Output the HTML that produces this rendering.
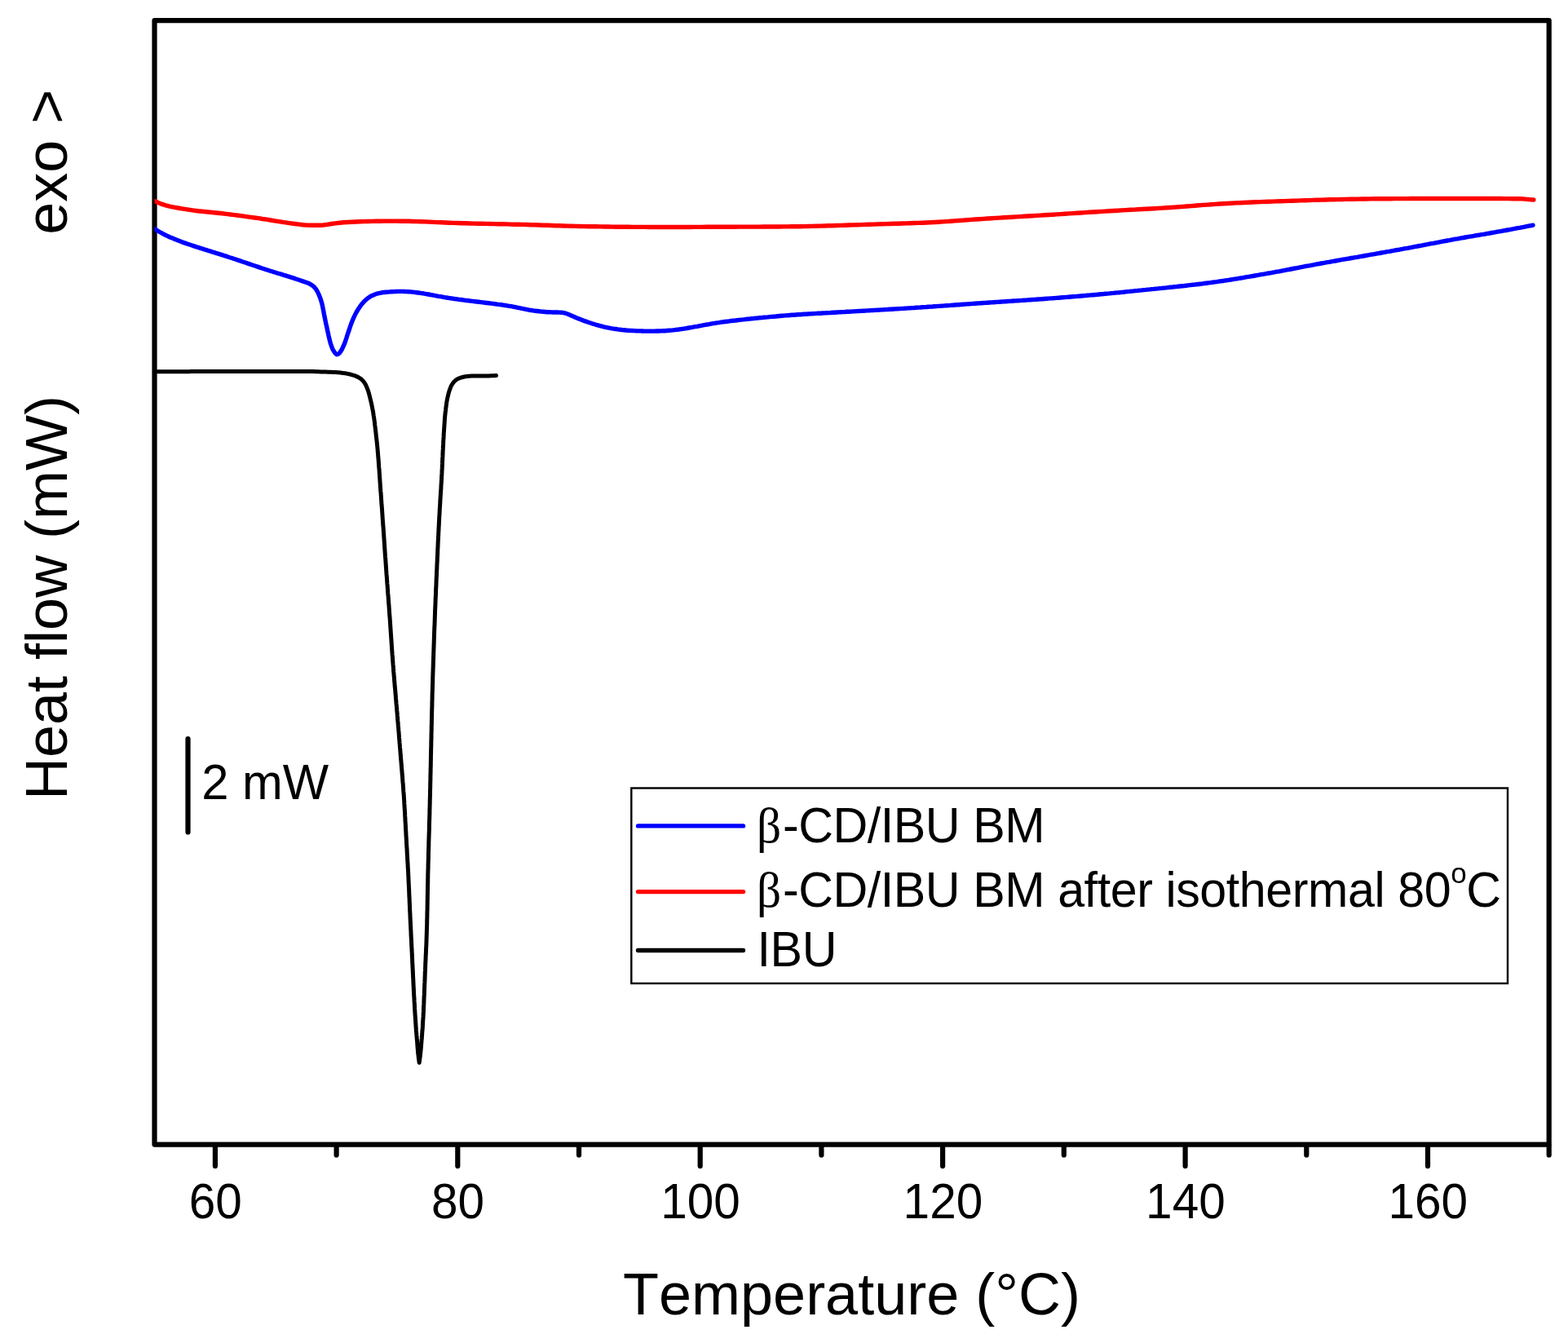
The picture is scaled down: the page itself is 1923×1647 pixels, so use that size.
<!DOCTYPE html>
<html lang="en">
<head>
<meta charset="utf-8">
<title>DSC thermograms</title>
<style>
html,body{margin:0;padding:0;background:#fff;}
body{width:1923px;height:1647px;overflow:hidden;}
svg{display:block;filter:blur(0.7px);}
text{font-family:"Liberation Sans",sans-serif;fill:#000;font-kerning:none;}
.sym{font-family:"Liberation Serif",serif;}
</style>
</head>
<body>
<svg width="1923" height="1647" viewBox="0 0 1923 1647">
<defs><clipPath id="plot"><rect x="189.5" y="25.2" width="1710.2" height="1378.4"/></clipPath></defs>
<rect x="-10" y="-10" width="1943" height="1667" fill="#fff"/>
<g fill="none" stroke="#000" stroke-width="6.2" stroke-linecap="round" stroke-linejoin="round">
<rect x="189.5" y="25.2" width="1710.2" height="1378.4"/>
<path d="M263.9 1405.1V1430.0M412.6 1405.1V1416.5M561.3 1405.1V1430.0M710.0 1405.1V1416.5M858.7 1405.1V1430.0M1007.4 1405.1V1416.5M1156.1 1405.1V1430.0M1304.8 1405.1V1416.5M1453.6 1405.1V1430.0M1602.3 1405.1V1416.5M1751.0 1405.1V1430.0M1899.7 1405.1V1416.5"/>
<path d="M230.5 906V1020.5"/>
</g>
<g clip-path="url(#plot)" fill="none" stroke-linecap="round" stroke-linejoin="round" stroke-width="5.0">
<path stroke="#000000" d="M189.4 455.8L192.4 455.8L195.4 455.8L198.4 455.8L201.4 455.8L204.4 455.7L207.4 455.7L210.4 455.7L213.4 455.7L216.4 455.7L219.4 455.7L222.4 455.7L225.4 455.7L228.4 455.7L231.4 455.7L234.4 455.6L237.4 455.6L240.4 455.6L243.4 455.6L246.4 455.6L249.4 455.6L252.4 455.6L255.4 455.6L258.4 455.6L261.4 455.6L264.4 455.5L267.4 455.5L270.4 455.5L273.4 455.5L276.4 455.5L279.4 455.5L282.4 455.5L285.4 455.5L288.4 455.5L291.4 455.5L294.4 455.5L297.4 455.4L300.4 455.4L303.4 455.4L306.4 455.4L309.4 455.4L312.4 455.4L315.4 455.4L318.4 455.4L321.4 455.4L324.4 455.4L327.4 455.4L330.4 455.4L333.4 455.4L336.4 455.4L339.5 455.4L342.5 455.4L345.5 455.4L348.5 455.4L351.5 455.4L354.5 455.4L357.5 455.4L360.5 455.4L363.5 455.4L366.5 455.4L369.5 455.4L372.5 455.5L375.5 455.5L378.5 455.5L381.5 455.6L384.5 455.6L387.5 455.7L390.4 455.8L393.4 455.9L396.4 456L399.4 456.1L402.4 456.2L405.4 456.3L408.4 456.4L411.4 456.6L414.4 456.8L417.4 457.1L420.4 457.4L423.4 457.8L426.3 458.4L429.3 459L432.2 459.8L435 460.7L437.8 461.8L440.5 463.2L442.9 464.9L445.1 466.9L446.9 469.3L448.5 471.9L449.7 474.6L450.8 477.4L451.8 480.3L452.6 483.1L453.4 486L454.1 489L454.8 491.9L455.5 494.8L456.1 497.7L456.7 500.7L457.2 503.6L457.8 506.6L458.2 509.6L458.7 512.5L459.1 515.5L459.5 518.5L459.8 521.5L460.2 524.4L460.5 527.4L460.9 530.4L461.2 533.4L461.5 536.4L461.9 539.3L462.2 542.3L462.5 545.3L462.8 548.3L463.1 551.3L463.3 554.3L463.6 557.3L463.8 560.3L464.1 563.2L464.3 566.2L464.5 569.2L464.7 572.2L465 575.2L465.2 578.2L465.4 581.2L465.6 584.2L465.8 587.2L466 590.2L466.2 593.2L466.4 596.2L466.6 599.2L466.8 602.2L467.1 605.1L467.3 608.1L467.5 611.1L467.7 614.1L467.9 617.1L468.1 620.1L468.4 623.1L468.6 626.1L468.8 629.1L469 632.1L469.2 635.1L469.4 638.1L469.6 641.1L469.8 644.1L470.1 647.1L470.3 650L470.5 653L470.7 656L470.9 659L471.1 662L471.3 665L471.5 668L471.7 671L471.9 674L472.1 677L472.3 680L472.5 683L472.8 686L473 689L473.2 692L473.4 695L473.6 697.9L473.8 700.9L474 703.9L474.3 706.9L474.5 709.9L474.7 712.9L474.9 715.9L475.2 718.9L475.4 721.9L475.6 724.9L475.8 727.9L476.1 730.9L476.3 733.9L476.5 736.9L476.7 739.8L477 742.8L477.2 745.8L477.4 748.8L477.6 751.8L477.8 754.8L478.1 757.8L478.3 760.8L478.5 763.8L478.7 766.8L478.9 769.8L479.1 772.8L479.3 775.8L479.5 778.8L479.7 781.8L479.9 784.7L480.1 787.7L480.3 790.7L480.5 793.7L480.7 796.7L480.9 799.7L481.1 802.7L481.4 805.7L481.6 808.7L481.8 811.7L482 814.7L482.3 817.7L482.5 820.7L482.7 823.7L483 826.6L483.2 829.6L483.5 832.6L483.7 835.6L484 838.6L484.2 841.6L484.5 844.6L484.8 847.6L485 850.6L485.3 853.6L485.5 856.5L485.8 859.5L486 862.5L486.3 865.5L486.6 868.5L486.8 871.5L487.1 874.5L487.3 877.5L487.6 880.5L487.8 883.5L488.1 886.5L488.3 889.4L488.6 892.4L488.8 895.4L489.1 898.4L489.3 901.4L489.5 904.4L489.8 907.4L490 910.4L490.3 913.4L490.5 916.4L490.8 919.4L491 922.3L491.2 925.3L491.5 928.3L491.7 931.3L492 934.3L492.2 937.3L492.5 940.3L492.7 943.3L493 946.3L493.2 949.3L493.5 952.3L493.7 955.2L493.9 958.2L494.2 961.2L494.4 964.2L494.6 967.2L494.8 970.2L495.1 973.2L495.3 976.2L495.5 979.2L495.7 982.2L495.8 985.2L496 988.2L496.2 991.2L496.4 994.2L496.6 997.2L496.7 1000.2L496.9 1003.2L497 1006.1L497.2 1009.1L497.4 1012.1L497.5 1015.1L497.7 1018.1L497.9 1021.1L498 1024.1L498.2 1027.1L498.4 1030.1L498.5 1033.1L498.7 1036.1L498.9 1039.1L499.1 1042.1L499.2 1045.1L499.4 1048.1L499.6 1051.1L499.7 1054.1L499.9 1057.1L500.1 1060.1L500.2 1063.1L500.4 1066.1L500.6 1069.1L500.7 1072.1L500.9 1075.1L501 1078.1L501.1 1081.1L501.3 1084.1L501.4 1087.1L501.6 1090.1L501.7 1093.1L501.8 1096L501.9 1099L502.1 1102L502.2 1105L502.3 1108L502.5 1111L502.6 1114L502.7 1117L502.9 1120L503 1123L503.1 1126L503.3 1129L503.4 1132L503.6 1135L503.7 1138L503.9 1141L504 1144L504.1 1147L504.3 1150L504.4 1153L504.6 1156L504.7 1159L504.9 1162L505 1165L505.2 1168L505.3 1171L505.5 1174L505.6 1177L505.7 1180L505.9 1183L506 1186L506.2 1189L506.3 1192L506.5 1195L506.6 1198L506.8 1201L506.9 1204L507 1207L507.2 1210L507.3 1213L507.5 1216L507.6 1219L507.8 1221.9L508 1224.9L508.1 1227.9L508.3 1230.9L508.5 1233.9L508.6 1236.9L508.8 1239.9L509 1242.9L509.2 1245.9L509.4 1248.9L509.6 1251.9L509.8 1254.9L510 1257.9L510.2 1260.9L510.4 1263.9L510.7 1266.9L510.9 1269.9L511.2 1272.8L511.4 1275.8L511.7 1278.8L511.9 1281.8L512.1 1284.8L512.4 1287.8L512.6 1290.8L513 1293.8L513.3 1296.8L513.7 1299.7L514.1 1302.7L514.2 1303.2L514.6 1300.2L515 1297.2L515.4 1294.3L515.7 1291.3L516 1288.3L516.3 1285.3L516.5 1282.3L516.8 1279.3L517 1276.3L517.3 1273.4L517.5 1270.4L517.7 1267.4L517.9 1264.4L518.2 1261.4L518.4 1258.4L518.5 1255.4L518.7 1252.4L518.9 1249.4L519.1 1246.4L519.2 1243.4L519.4 1240.4L519.5 1237.4L519.6 1234.4L519.8 1231.4L519.9 1228.4L520 1225.4L520.1 1222.4L520.3 1219.4L520.4 1216.4L520.5 1213.4L520.6 1210.4L520.7 1207.4L520.9 1204.4L521 1201.4L521.1 1198.4L521.2 1195.4L521.3 1192.4L521.5 1189.4L521.6 1186.5L521.7 1183.5L521.8 1180.5L522 1177.5L522.1 1174.5L522.2 1171.5L522.4 1168.5L522.5 1165.5L522.6 1162.5L522.8 1159.5L522.9 1156.5L523 1153.5L523.1 1150.5L523.2 1147.5L523.3 1144.5L523.4 1141.5L523.5 1138.5L523.6 1135.5L523.7 1132.5L523.7 1129.5L523.8 1126.5L523.9 1123.5L523.9 1120.5L524 1117.5L524.1 1114.5L524.1 1111.5L524.2 1108.5L524.2 1105.5L524.3 1102.5L524.3 1099.5L524.4 1096.5L524.4 1093.5L524.5 1090.5L524.5 1087.5L524.6 1084.5L524.7 1081.5L524.7 1078.5L524.8 1075.5L524.8 1072.5L524.9 1069.5L525 1066.5L525.1 1063.5L525.1 1060.5L525.2 1057.5L525.3 1054.5L525.4 1051.5L525.4 1048.5L525.5 1045.5L525.6 1042.5L525.7 1039.5L525.8 1036.5L525.8 1033.5L525.9 1030.5L526 1027.5L526.1 1024.5L526.2 1021.5L526.3 1018.5L526.4 1015.5L526.4 1012.5L526.5 1009.5L526.6 1006.5L526.7 1003.5L526.8 1000.5L526.9 997.5L526.9 994.5L527 991.5L527.1 988.5L527.2 985.5L527.2 982.5L527.3 979.5L527.4 976.5L527.5 973.5L527.5 970.5L527.6 967.5L527.7 964.5L527.7 961.5L527.8 958.5L527.9 955.5L527.9 952.5L528 949.5L528.1 946.5L528.1 943.5L528.2 940.5L528.3 937.5L528.3 934.5L528.4 931.5L528.4 928.5L528.5 925.5L528.6 922.5L528.6 919.5L528.7 916.5L528.8 913.5L528.8 910.5L528.9 907.5L529 904.5L529 901.5L529.1 898.5L529.2 895.5L529.2 892.5L529.3 889.5L529.4 886.5L529.4 883.5L529.5 880.5L529.6 877.5L529.6 874.5L529.7 871.5L529.8 868.5L529.9 865.5L529.9 862.5L530 859.5L530.1 856.5L530.1 853.5L530.2 850.5L530.3 847.5L530.4 844.5L530.5 841.5L530.6 838.5L530.7 835.5L530.7 832.5L530.8 829.5L530.9 826.5L531 823.5L531.1 820.5L531.2 817.5L531.3 814.5L531.4 811.5L531.5 808.5L531.6 805.5L531.7 802.5L531.8 799.5L531.9 796.5L532 793.5L532.1 790.5L532.2 787.5L532.3 784.5L532.4 781.5L532.5 778.5L532.6 775.5L532.7 772.5L532.8 769.5L533 766.5L533.1 763.5L533.2 760.5L533.3 757.5L533.4 754.5L533.5 751.5L533.6 748.5L533.7 745.5L533.9 742.5L534 739.5L534.1 736.5L534.2 733.5L534.4 730.5L534.5 727.5L534.6 724.5L534.7 721.5L534.9 718.5L535 715.5L535.1 712.5L535.2 709.5L535.4 706.5L535.5 703.5L535.6 700.5L535.8 697.5L535.9 694.5L536 691.5L536.2 688.5L536.3 685.5L536.4 682.5L536.6 679.5L536.7 676.5L536.8 673.5L537 670.5L537.1 667.5L537.2 664.5L537.4 661.6L537.5 658.6L537.7 655.6L537.8 652.6L538 649.6L538.1 646.6L538.3 643.6L538.4 640.6L538.6 637.6L538.7 634.6L538.9 631.6L539.1 628.6L539.2 625.6L539.4 622.6L539.6 619.6L539.8 616.6L539.9 613.6L540.1 610.6L540.3 607.6L540.5 604.6L540.7 601.6L540.9 598.6L541 595.6L541.2 592.6L541.4 589.6L541.6 586.6L541.7 583.7L541.9 580.7L542 577.7L542.2 574.7L542.3 571.7L542.5 568.7L542.6 565.7L542.7 562.7L542.9 559.7L543 556.7L543.1 553.7L543.3 550.7L543.4 547.7L543.6 544.7L543.7 541.7L543.9 538.7L544.1 535.7L544.2 532.7L544.4 529.7L544.6 526.7L544.8 523.7L545 520.7L545.2 517.7L545.4 514.7L545.6 511.8L545.9 508.8L546.2 505.8L546.6 502.8L546.9 499.8L547.3 496.8L547.7 493.9L548.2 490.9L548.8 488L549.5 485L550.2 482.1L551.1 479.2L552.1 476.4L553.2 473.6L554.7 471L556.5 468.6L558.6 466.5L561 464.8L563.8 463.6L566.6 462.7L569.5 462L572.5 461.6L575.5 461.2L578.5 461L581.5 460.9L584.5 460.9L587.5 460.9L590.6 460.9L593.6 460.9L596.6 460.9L599.5 460.9L602.5 460.8L605.5 460.7L608.5 460.6"/>
<path stroke="#ff0000" stroke-width="5.4" d="M189.4 246.5L194 248.5L198.7 250.4L203.4 251.9L208.2 253.1L213.1 254.1L218 255L223 255.9L227.9 256.7L232.8 257.4L237.8 258.1L242.7 258.7L247.7 259.2L252.7 259.7L257.7 260.3L262.6 260.8L267.6 261.3L272.6 261.8L277.5 262.4L282.5 263L287.5 263.6L292.4 264.2L297.4 264.9L302.3 265.6L307.3 266.3L312.2 267L317.2 267.7L322.1 268.5L327.1 269.2L332 270L336.9 270.8L341.9 271.6L346.8 272.4L351.8 273.1L356.7 273.8L361.7 274.5L366.6 275.1L371.6 275.7L376.6 276.1L381.6 276.3L386.6 276.3L391.6 276.3L396.5 276L401.5 275.3L406.5 274.5L411.4 273.9L416.4 273.3L421.4 272.8L426.3 272.5L431.3 272.3L436.3 272L441.3 271.8L446.3 271.6L451.3 271.5L456.3 271.4L461.3 271.3L466.3 271.2L471.3 271.1L476.3 271.1L481.3 271.1L486.3 271.1L491.3 271.2L496.3 271.2L501.3 271.3L506.3 271.5L511.3 271.6L516.3 271.8L521.3 271.9L526.3 272.1L531.3 272.4L536.3 272.6L541.3 272.8L546.3 273L551.3 273.2L556.3 273.4L561.3 273.5L566.3 273.7L571.3 273.8L576.3 274L581.3 274.1L586.3 274.2L591.3 274.3L596.3 274.4L601.3 274.5L606.3 274.6L611.3 274.7L616.3 274.8L621.3 274.9L626.3 275.1L631.3 275.2L636.3 275.3L641.3 275.4L646.3 275.5L651.3 275.7L656.3 275.8L661.2 276L666.2 276.2L671.2 276.3L676.2 276.5L681.2 276.7L686.2 276.8L691.2 277L696.2 277.1L701.2 277.3L706.2 277.4L711.2 277.5L716.2 277.6L721.2 277.7L726.2 277.8L731.2 277.8L736.2 277.9L741.2 278L746.2 278L751.2 278.1L756.2 278.2L761.2 278.2L766.2 278.3L771.2 278.3L776.2 278.4L781.2 278.4L786.2 278.4L791.2 278.4L796.2 278.5L801.2 278.5L806.2 278.5L811.2 278.5L816.2 278.5L821.2 278.5L826.2 278.5L831.2 278.5L836.2 278.5L841.2 278.5L846.2 278.5L851.2 278.4L856.2 278.4L861.2 278.4L866.2 278.3L871.2 278.3L876.2 278.3L881.2 278.2L886.2 278.2L891.2 278.2L896.2 278.2L901.2 278.2L906.2 278.1L911.2 278.1L916.2 278.1L921.2 278.1L926.2 278.1L931.2 278.1L936.2 278L941.2 278L946.2 278L951.2 278L956.2 278L961.2 277.9L966.2 277.9L971.2 277.8L976.2 277.8L981.2 277.7L986.2 277.6L991.2 277.5L996.2 277.4L1001.2 277.3L1006.2 277.1L1011.2 277L1016.2 276.8L1021.2 276.7L1026.2 276.5L1031.2 276.4L1036.2 276.2L1041.2 276L1046.2 275.9L1051.2 275.7L1056.2 275.6L1061.2 275.4L1066.2 275.3L1071.2 275.1L1076.2 274.9L1081.2 274.8L1086.2 274.6L1091.2 274.5L1096.2 274.3L1101.2 274.2L1106.2 274L1111.2 273.9L1116.2 273.7L1121.2 273.5L1126.2 273.4L1131.2 273.2L1136.2 273L1141.2 272.7L1146.2 272.5L1151.2 272.2L1156.1 271.9L1161.1 271.6L1166.1 271.2L1171.1 270.9L1176.1 270.5L1181.1 270.1L1186.1 269.8L1191.1 269.4L1196 269L1201 268.7L1206 268.4L1211 268L1216 267.7L1221 267.4L1226 267.1L1231 266.8L1236 266.5L1241 266.2L1246 265.9L1250.9 265.6L1255.9 265.3L1260.9 265L1265.9 264.7L1270.9 264.4L1275.9 264.1L1280.9 263.8L1285.9 263.5L1290.9 263.2L1295.9 262.9L1300.9 262.6L1305.8 262.3L1310.8 261.9L1315.8 261.6L1320.8 261.3L1325.8 261L1330.8 260.6L1335.8 260.3L1340.8 260L1345.8 259.7L1350.8 259.4L1355.7 259.1L1360.7 258.8L1365.7 258.5L1370.7 258.2L1375.7 257.9L1380.7 257.6L1385.7 257.3L1390.7 257.1L1395.7 256.8L1400.7 256.5L1405.7 256.3L1410.7 256L1415.7 255.7L1420.6 255.4L1425.6 255.1L1430.6 254.8L1435.6 254.5L1440.6 254.1L1445.6 253.7L1450.6 253.4L1455.6 253L1460.6 252.6L1465.5 252.2L1470.5 251.8L1475.5 251.4L1480.5 251.1L1485.5 250.7L1490.5 250.4L1495.5 250L1500.4 249.7L1505.4 249.5L1510.4 249.2L1515.4 248.9L1520.4 248.7L1525.4 248.5L1530.4 248.3L1535.4 248L1540.4 247.8L1545.4 247.6L1550.4 247.4L1555.4 247.3L1560.4 247.1L1565.4 246.9L1570.4 246.7L1575.4 246.6L1580.4 246.4L1585.4 246.2L1590.4 246.1L1595.4 245.9L1600.4 245.8L1605.4 245.6L1610.4 245.4L1615.4 245.3L1620.4 245.1L1625.4 245L1630.4 244.8L1635.4 244.7L1640.4 244.6L1645.4 244.5L1650.4 244.4L1655.4 244.3L1660.4 244.2L1665.4 244.1L1670.4 244L1675.4 244L1680.4 243.9L1685.4 243.8L1690.4 243.8L1695.4 243.7L1700.4 243.7L1705.4 243.7L1710.4 243.6L1715.4 243.6L1720.4 243.6L1725.4 243.6L1730.4 243.5L1735.4 243.5L1740.4 243.5L1745.4 243.5L1750.4 243.5L1755.4 243.5L1760.4 243.5L1765.4 243.5L1770.4 243.5L1775.4 243.5L1780.4 243.5L1785.4 243.5L1790.4 243.5L1795.4 243.5L1800.4 243.5L1805.4 243.5L1810.4 243.5L1815.4 243.5L1820.4 243.5L1825.4 243.5L1830.4 243.5L1835.4 243.5L1840.4 243.5L1845.4 243.6L1850.4 243.6L1855.4 243.7L1860.4 243.8L1865.4 243.8L1870.3 244.1L1875.3 244.6L1880.3 245L1880.8 245"/>
<path stroke="#0000ff" stroke-width="5.4" d="M189.4 280.6L191.5 281.9L193.7 283.2L195.8 284.5L198 285.7L200.2 286.9L202.4 288L204.7 289.1L207 290.2L209.2 291.2L211.5 292.1L213.8 293.1L216.2 294L218.5 294.9L220.8 295.8L223.1 296.7L225.5 297.6L227.8 298.4L230.2 299.2L232.6 300L234.9 300.8L237.3 301.6L239.7 302.4L242.1 303.2L244.5 303.9L246.8 304.7L249.2 305.4L251.6 306.2L254 306.9L256.4 307.7L258.8 308.4L261.1 309.2L263.5 309.9L265.9 310.7L268.3 311.4L270.7 312.1L273.1 312.9L275.5 313.7L277.8 314.4L280.2 315.2L282.6 316L285 316.7L287.3 317.5L289.7 318.3L292.1 319.1L294.5 319.9L296.8 320.7L299.2 321.5L301.6 322.3L303.9 323.1L306.3 323.9L308.7 324.7L311 325.5L313.4 326.3L315.8 327.1L318.1 327.9L320.5 328.7L322.9 329.5L325.3 330.3L327.6 331L330 331.8L332.4 332.5L334.8 333.3L337.2 334L339.6 334.8L342 335.5L344.4 336.2L346.7 336.9L349.1 337.7L351.5 338.4L353.9 339.1L356.3 339.9L358.7 340.6L361 341.4L363.4 342.2L365.8 343L368.1 343.8L370.4 344.6L372.8 345.4L375.2 346.2L377.5 347.1L379.8 348.1L382 349.4L384.1 350.8L385.8 352.5L387.4 354.4L388.7 356.6L389.9 358.8L391 361.1L391.9 363.4L392.8 365.7L393.6 368.1L394.3 370.5L395 372.9L395.5 375.3L396 377.8L396.5 380.2L397 382.7L397.4 385.2L397.9 387.6L398.4 390.1L398.9 392.5L399.4 395L399.9 397.4L400.5 399.9L401 402.3L401.5 404.8L402 407.2L402.6 409.6L403.1 412.1L403.7 414.5L404.3 417L404.9 419.4L405.6 421.8L406.4 424.2L407.3 426.5L408.3 428.8L409.6 431L411.1 433.2L412.9 434.7L414.7 434.4L416.5 432.7L418 430.6L419.3 428.5L420.4 426.2L421.4 423.9L422.4 421.6L423.3 419.2L424.1 416.9L424.9 414.5L425.6 412.1L426.4 409.7L427.2 407.3L428 405L428.8 402.6L429.6 400.2L430.4 397.9L431.3 395.5L432.2 393.2L433.2 390.9L434.2 388.6L435.3 386.4L436.5 384.1L437.7 381.9L438.9 379.8L440.3 377.7L441.7 375.6L443.2 373.6L444.8 371.7L446.5 369.8L448.3 368.1L450.2 366.4L452.2 364.9L454.3 363.5L456.5 362.4L458.8 361.4L461.1 360.5L463.5 359.8L466 359.3L468.4 358.8L470.9 358.5L473.4 358.2L475.9 358.1L478.4 357.9L480.9 357.7L483.4 357.6L485.8 357.5L488.3 357.4L490.8 357.4L493.3 357.4L495.8 357.5L498.3 357.6L500.8 357.7L503.3 357.9L505.8 358.1L508.2 358.4L510.7 358.7L513.2 359L515.7 359.4L518.1 359.7L520.6 360.2L523 360.6L525.5 361L528 361.5L530.4 361.9L532.9 362.4L535.3 362.8L537.8 363.3L540.3 363.7L542.7 364.1L545.2 364.6L547.7 365L550.1 365.4L552.6 365.8L555.1 366.1L557.5 366.5L560 366.8L562.5 367.2L565 367.5L567.4 367.8L569.9 368.2L572.4 368.5L574.9 368.8L577.4 369.1L579.8 369.4L582.3 369.7L584.8 370L587.3 370.3L589.8 370.6L592.3 370.9L594.7 371.2L597.2 371.5L599.7 371.8L602.2 372.1L604.7 372.4L607.1 372.7L609.6 373.1L612.1 373.4L614.6 373.7L617 374.1L619.5 374.5L622 374.9L624.4 375.3L626.9 375.7L629.3 376.2L631.8 376.7L634.2 377.2L636.7 377.7L639.1 378.2L641.6 378.7L644 379.1L646.5 379.6L648.9 380.1L651.4 380.5L653.9 380.9L656.3 381.2L658.8 381.5L661.3 381.8L663.8 382.1L666.3 382.3L668.7 382.5L671.2 382.7L673.7 382.8L676.2 382.9L678.7 383L681.2 383L683.7 383L686.2 383.1L688.7 383.2L691.2 383.6L693.6 384.2L696 385L698.3 385.9L700.6 386.9L702.9 387.9L705.2 389L707.4 390L709.8 390.9L712.1 391.8L714.4 392.7L716.8 393.6L719.1 394.4L721.5 395.2L723.9 396L726.2 396.8L728.6 397.5L731 398.3L733.4 398.9L735.8 399.6L738.2 400.2L740.6 400.8L743.1 401.3L745.5 401.8L748 402.3L750.4 402.8L752.9 403.2L755.4 403.5L757.8 403.9L760.3 404.2L762.8 404.5L765.3 404.7L767.8 405L770.2 405.2L772.7 405.4L775.2 405.5L777.7 405.6L780.2 405.8L782.7 405.9L785.2 405.9L787.7 406L790.2 406.1L792.7 406.1L795.2 406.1L797.7 406.1L800.2 406.1L802.7 406.1L805.2 406L807.7 406L810.2 405.9L812.7 405.8L815.2 405.7L817.7 405.5L820.2 405.3L822.7 405.1L825.1 404.9L827.6 404.6L830.1 404.3L832.6 404L835.1 403.6L837.5 403.3L840 402.9L842.5 402.5L844.9 402L847.4 401.6L849.8 401.2L852.3 400.7L854.8 400.3L857.2 399.8L859.7 399.3L862.1 398.9L864.6 398.4L867.1 398L869.5 397.6L872 397.1L874.5 396.7L876.9 396.3L879.4 395.9L881.9 395.6L884.3 395.2L886.8 394.8L889.3 394.5L891.8 394.2L894.2 393.9L896.7 393.5L899.2 393.2L901.7 393L904.2 392.7L906.6 392.4L909.1 392.1L911.6 391.9L914.1 391.6L916.6 391.3L919.1 391.1L921.6 390.8L924.1 390.6L926.5 390.3L929 390.1L931.5 389.8L934 389.6L936.5 389.3L939 389.1L941.5 388.9L944 388.6L946.5 388.4L948.9 388.2L951.4 388L953.9 387.7L956.4 387.5L958.9 387.3L961.4 387.1L963.9 386.9L966.4 386.7L968.9 386.5L971.4 386.3L973.9 386.2L976.4 386L978.8 385.8L981.3 385.7L983.8 385.5L986.3 385.3L988.8 385.2L991.3 385L993.8 384.9L996.3 384.7L998.8 384.6L1001.3 384.4L1003.8 384.3L1006.3 384.2L1008.8 384L1011.3 383.9L1013.8 383.7L1016.3 383.6L1018.8 383.5L1021.3 383.3L1023.8 383.2L1026.3 383L1028.8 382.9L1031.3 382.7L1033.8 382.6L1036.2 382.5L1038.7 382.3L1041.2 382.2L1043.7 382.1L1046.2 381.9L1048.7 381.8L1051.2 381.6L1053.7 381.5L1056.2 381.4L1058.7 381.2L1061.2 381.1L1063.7 380.9L1066.2 380.8L1068.7 380.6L1071.2 380.5L1073.7 380.4L1076.2 380.2L1078.7 380.1L1081.2 379.9L1083.7 379.8L1086.2 379.6L1088.7 379.5L1091.2 379.3L1093.7 379.2L1096.1 379L1098.6 378.9L1101.1 378.7L1103.6 378.6L1106.1 378.4L1108.6 378.3L1111.1 378.1L1113.6 377.9L1116.1 377.8L1118.6 377.6L1121.1 377.5L1123.6 377.3L1126.1 377.1L1128.6 377L1131.1 376.8L1133.6 376.6L1136.1 376.5L1138.6 376.3L1141.1 376.1L1143.6 376L1146 375.8L1148.5 375.6L1151 375.4L1153.5 375.3L1156 375.1L1158.5 374.9L1161 374.7L1163.5 374.6L1166 374.4L1168.5 374.2L1171 374L1173.5 373.8L1176 373.7L1178.5 373.5L1181 373.3L1183.4 373.1L1185.9 372.9L1188.4 372.8L1190.9 372.6L1193.4 372.4L1195.9 372.2L1198.4 372L1200.9 371.9L1203.4 371.7L1205.9 371.5L1208.4 371.4L1210.9 371.2L1213.4 371L1215.9 370.9L1218.4 370.7L1220.9 370.5L1223.4 370.4L1225.8 370.2L1228.3 370L1230.8 369.9L1233.3 369.7L1235.8 369.5L1238.3 369.4L1240.8 369.2L1243.3 369L1245.8 368.9L1248.3 368.7L1250.8 368.6L1253.3 368.4L1255.8 368.2L1258.3 368.1L1260.8 367.9L1263.3 367.7L1265.8 367.5L1268.3 367.4L1270.8 367.2L1273.2 367L1275.7 366.9L1278.2 366.7L1280.7 366.5L1283.2 366.3L1285.7 366.1L1288.2 365.9L1290.7 365.8L1293.2 365.6L1295.7 365.4L1298.2 365.2L1300.7 365L1303.2 364.8L1305.7 364.6L1308.1 364.4L1310.6 364.2L1313.1 364L1315.6 363.8L1318.1 363.6L1320.6 363.4L1323.1 363.2L1325.6 363L1328.1 362.8L1330.6 362.6L1333.1 362.3L1335.6 362.1L1338 361.9L1340.5 361.7L1343 361.5L1345.5 361.3L1348 361L1350.5 360.8L1353 360.6L1355.5 360.3L1358 360.1L1360.4 359.9L1362.9 359.6L1365.4 359.4L1367.9 359.1L1370.4 358.9L1372.9 358.7L1375.4 358.4L1377.9 358.2L1380.4 357.9L1382.8 357.6L1385.3 357.4L1387.8 357.1L1390.3 356.9L1392.8 356.6L1395.3 356.4L1397.8 356.1L1400.2 355.9L1402.7 355.6L1405.2 355.4L1407.7 355.1L1410.2 354.9L1412.7 354.6L1415.2 354.4L1417.7 354.1L1420.1 353.9L1422.6 353.6L1425.1 353.4L1427.6 353.1L1430.1 352.9L1432.6 352.6L1435.1 352.3L1437.6 352.1L1440 351.8L1442.5 351.6L1445 351.3L1447.5 351L1450 350.7L1452.5 350.5L1455 350.2L1457.4 349.9L1459.9 349.6L1462.4 349.3L1464.9 349.1L1467.4 348.8L1469.9 348.5L1472.3 348.2L1474.8 347.9L1477.3 347.5L1479.8 347.2L1482.3 346.9L1484.7 346.6L1487.2 346.2L1489.7 345.9L1492.2 345.6L1494.6 345.2L1497.1 344.8L1499.6 344.5L1502.1 344.1L1504.5 343.7L1507 343.4L1509.5 343L1511.9 342.6L1514.4 342.2L1516.9 341.8L1519.3 341.4L1521.8 341L1524.3 340.6L1526.7 340.1L1529.2 339.7L1531.7 339.3L1534.1 338.9L1536.6 338.5L1539.1 338L1541.5 337.6L1544 337.2L1546.5 336.7L1548.9 336.3L1551.4 335.9L1553.8 335.4L1556.3 335L1558.8 334.6L1561.2 334.1L1563.7 333.7L1566.1 333.2L1568.6 332.8L1571.1 332.3L1573.5 331.8L1576 331.4L1578.4 330.9L1580.9 330.5L1583.3 330L1585.8 329.5L1588.3 329L1590.7 328.6L1593.2 328.1L1595.6 327.6L1598.1 327.2L1600.5 326.7L1603 326.2L1605.4 325.8L1607.9 325.3L1610.4 324.9L1612.8 324.4L1615.3 323.9L1617.7 323.5L1620.2 323L1622.7 322.6L1625.1 322.2L1627.6 321.7L1630 321.3L1632.5 320.8L1635 320.4L1637.4 320L1639.9 319.5L1642.3 319.1L1644.8 318.7L1647.3 318.2L1649.7 317.8L1652.2 317.4L1654.7 317L1657.1 316.5L1659.6 316.1L1662.1 315.7L1664.5 315.3L1667 314.8L1669.4 314.4L1671.9 314L1674.4 313.5L1676.8 313.1L1679.3 312.7L1681.8 312.2L1684.2 311.8L1686.7 311.4L1689.1 310.9L1691.6 310.5L1694.1 310L1696.5 309.6L1699 309.2L1701.4 308.7L1703.9 308.3L1706.4 307.8L1708.8 307.4L1711.3 306.9L1713.7 306.5L1716.2 306.1L1718.7 305.6L1721.1 305.2L1723.6 304.7L1726 304.3L1728.5 303.8L1731 303.4L1733.4 302.9L1735.9 302.4L1738.3 302L1740.8 301.5L1743.2 301.1L1745.7 300.6L1748.2 300.1L1750.6 299.7L1753.1 299.2L1755.5 298.7L1758 298.3L1760.4 297.8L1762.9 297.3L1765.4 296.9L1767.8 296.4L1770.3 295.9L1772.7 295.5L1775.2 295L1777.6 294.6L1780.1 294.1L1782.6 293.6L1785 293.2L1787.5 292.8L1789.9 292.3L1792.4 291.9L1794.9 291.5L1797.3 291L1799.8 290.6L1802.3 290.2L1804.7 289.8L1807.2 289.4L1809.6 288.9L1812.1 288.5L1814.6 288.1L1817 287.7L1819.5 287.3L1822 286.8L1824.4 286.4L1826.9 286L1829.4 285.5L1831.8 285.1L1834.3 284.7L1836.7 284.2L1839.2 283.8L1841.7 283.4L1844.1 282.9L1846.6 282.5L1849 282L1851.5 281.6L1854 281.1L1856.4 280.7L1858.9 280.2L1861.3 279.7L1863.8 279.3L1866.2 278.8L1868.7 278.4L1871.2 277.9L1873.6 277.4L1876.1 276.9L1878.5 276.5L1880 276.2"/>
</g>
<text transform="translate(264.2 1494.0) scale(1 1.030)" font-size="58.5" text-anchor="middle">60</text>
<text transform="translate(561.6 1494.0) scale(1 1.030)" font-size="58.5" text-anchor="middle">80</text>
<text transform="translate(859.0 1494.0) scale(1 1.030)" font-size="58.5" text-anchor="middle">100</text>
<text transform="translate(1156.4 1494.0) scale(1 1.030)" font-size="58.5" text-anchor="middle">120</text>
<text transform="translate(1453.9 1494.0) scale(1 1.030)" font-size="58.5" text-anchor="middle">140</text>
<text transform="translate(1751.3 1494.0) scale(1 1.030)" font-size="58.5" text-anchor="middle">160</text>
<text transform="translate(1044.5 1611.7) scale(1 1.015)" font-size="72" text-anchor="middle">Temperature (°C)</text>
<text transform="translate(82.4 981.0) rotate(-90) scale(1 1.015)" font-size="72">Heat flow (mW)</text>
<text transform="translate(82.4 287.8) rotate(-90) scale(1 1.015)" font-size="72">exo &gt;</text>
<text transform="translate(247.3 979.8) scale(1 1.030)" font-size="59.7">2 mW</text>
<rect x="774.3" y="966.5" width="1074.7" height="239.5" fill="#fff" stroke="#000" stroke-width="2.4"/>
<g fill="none" stroke-linecap="round" stroke-width="5.4">
<path stroke="#0000ff" d="M782.5 1012.9H911.5"/>
<path stroke="#ff0000" d="M782.5 1093.6H911.5"/>
<path stroke="#000000" d="M782.5 1165.5H911.5"/>
</g>
<text transform="translate(928.1 1032.6) scale(1 1.030)" font-size="59.2" letter-spacing="-0.43"><tspan class="sym">β</tspan><tspan x="31.8">-CD/IBU BM</tspan></text>
<text transform="translate(928.1 1112.0) scale(1 1.020)" font-size="59.2" letter-spacing="-0.43"><tspan class="sym">β</tspan><tspan x="31.8">-CD/IBU BM after isothermal 80<tspan font-size="35" dy="-28.5">o</tspan><tspan dy="28.5">C</tspan></tspan></text>
<text transform="translate(928.6 1185.3) scale(1 1.030)" font-size="59.2" letter-spacing="-0.43">IBU</text>
</svg>
</body>
</html>
